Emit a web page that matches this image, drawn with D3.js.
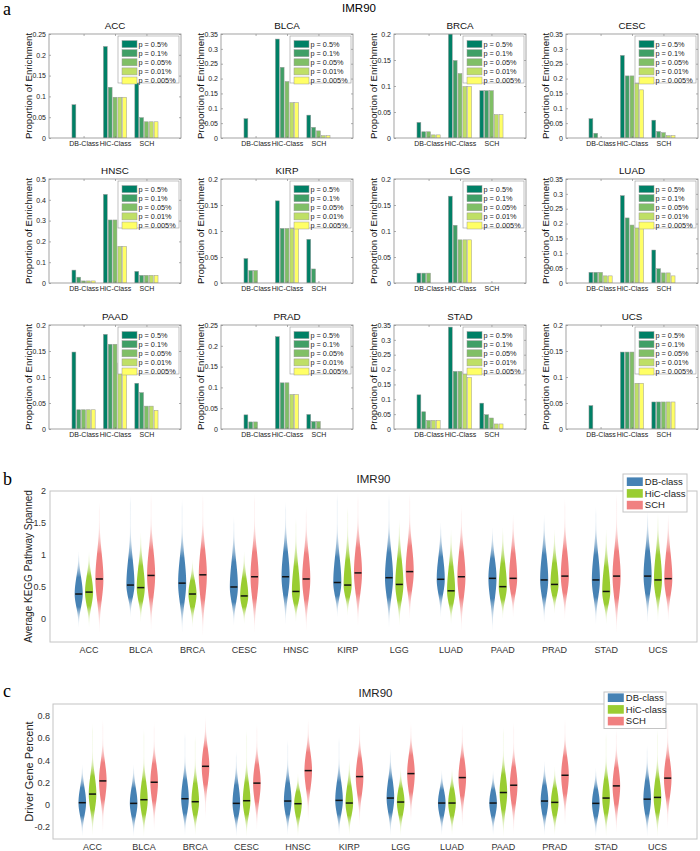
<!DOCTYPE html>
<html><head><meta charset="utf-8">
<script src="https://cdn.jsdelivr.net/npm/d3@7"></script>
<style>body{margin:0;background:#fff} svg{display:block;font-family:Arial,"Liberation Sans",sans-serif}</style>
</head><body><svg id="chart" width="700" height="851"></svg>
<script>
// ---------------- DATA ----------------
const cancers = ["ACC","BLCA","BRCA","CESC","HNSC","KIRP","LGG","LUAD","PAAD","PRAD","STAD","UCS"];
const enrichClasses = ["DB-Class","HiC-Class","SCH"];
const pLevels = ["p = 0.5%","p = 0.1%","p = 0.05%","p = 0.01%","p = 0.005%"];
const enrichYMax  = [0.25,0.35,0.2,0.35,0.5,0.2,0.2,0.35,0.2,0.25,0.35,0.2];
const enrichYStep = [0.05,0.05,0.05,0.05,0.1,0.05,0.05,0.05,0.05,0.05,0.05,0.05];
// each: [DB-Class 5 p-levels], [HiC-Class], [SCH]
const enrichACC  = [[0.08,0,0,0,0],[0.22,0.122,0.098,0.098,0.098],[0.146,0.049,0.039,0.039,0.039]];
const enrichBLCA = [[0.065,0,0,0,0],[0.333,0.238,0.19,0.119,0.119],[0.077,0.036,0.024,0.008,0.008]];
const enrichBRCA = [[0.03,0.012,0.012,0.006,0.006],[0.2,0.149,0.124,0.099,0.099],[0.091,0.091,0.091,0.045,0.045]];
const enrichCESC = [[0.065,0.016,0,0,0],[0.278,0.209,0.209,0.184,0.162],[0.06,0.022,0.018,0.008,0.008]];
const enrichHNSC = [[0.062,0.028,0.01,0.01,0.01],[0.426,0.303,0.303,0.176,0.176],[0.056,0.037,0.037,0.037,0.037]];
const enrichKIRP = [[0.047,0.024,0.024,0,0],[0.158,0.105,0.105,0.105,0.105],[0.084,0.027,0,0,0]];
const enrichLGG  = [[0.019,0.019,0.019,0,0],[0.167,0.111,0.083,0.083,0.083],[0,0,0,0,0]];
const enrichLUAD = [[0.036,0.036,0.036,0.024,0.024],[0.294,0.219,0.195,0.189,0.189],[0.111,0.048,0.034,0.034,0.024]];
const enrichPAAD = [[0.148,0.037,0.037,0.037,0.037],[0.182,0.163,0.163,0.127,0.127],[0.088,0.07,0.044,0.044,0.036]];
const enrichPRAD = [[0.034,0.017,0.017,0,0],[0.222,0.111,0.111,0.083,0.083],[0.035,0.018,0.018,0,0]];
const enrichSTAD = [[0.115,0.058,0.029,0.029,0.029],[0.343,0.194,0.194,0.19,0.173],[0.087,0.048,0.037,0.017,0.017]];
const enrichUCS  = [[0.045,0,0,0,0],[0.148,0.148,0.148,0.088,0.088],[0.052,0.052,0.052,0.052,0.052]];
const enrichValues = [enrichACC,enrichBLCA,enrichBRCA,enrichCESC,enrichHNSC,enrichKIRP,enrichLGG,enrichLUAD,enrichPAAD,enrichPRAD,enrichSTAD,enrichUCS];

const violinGroups = ["DB-class","HiC-class","SCH"];
// panel b: Average KEGG Pathway Spanned
const keggTicks = [0,0.5,1,1.5,2];
const keggDBMedian  = [0.39,0.53,0.56,0.50,0.66,0.57,0.645,0.62,0.635,0.61,0.61,0.67];
const keggHiCMedian = [0.42,0.49,0.39,0.36,0.43,0.53,0.54,0.44,0.505,0.54,0.43,0.61];
const keggSCHMedian = [0.625,0.68,0.69,0.66,0.625,0.72,0.74,0.66,0.635,0.67,0.67,0.63];
const keggDBLow  = [-0.12,0.04,-0.2,-0.09,-0.07,0.04,-0.12,0.04,-0.17,-0.04,-0.07,-0.04];
const keggDBHigh = [1.05,1.96,1.91,1.62,1.86,2.0,2.0,1.5,1.42,1.62,1.78,1.7];
const keggHiCLow  = [-0.12,-0.04,-0.12,-0.07,-0.04,0.06,-0.09,-0.07,0.01,0.09,-0.07,-0.02];
const keggHiCHigh = [1.05,1.34,0.92,1.05,1.6,1.78,1.55,1.39,1.42,1.39,1.39,1.68];
const keggSCHLow  = [-0.2,-0.17,-0.25,-0.2,-0.17,-0.09,0.01,-0.17,0.04,0.01,-0.2,-0.02];
const keggSCHHigh = [1.86,2.0,2.0,2.0,1.78,2.0,2.0,1.8,1.62,1.91,2.0,1.62];
// panel c: Driver Gene Percent
const driverTicks = [-0.2,0,0.2,0.4,0.6,0.8];
const driverDBMedian  = [0.018,0.012,0.054,0.012,0.033,0.039,0.06,0.015,0.015,0.033,0.012,0.05];
const driverHiCMedian = [0.096,0.045,0.027,0.036,0.009,0.015,0.024,0.015,0.11,0.021,0.06,0.066];
const driverSCHMedian = [0.215,0.203,0.347,0.195,0.308,0.254,0.281,0.245,0.176,0.266,0.17,0.24];
const driverDBLow  = [-0.28,-0.28,-0.27,-0.28,-0.27,-0.27,-0.27,-0.27,-0.27,-0.27,-0.28,-0.28];
const driverDBHigh = [0.36,0.36,0.67,0.49,0.6,0.63,0.51,0.31,0.31,0.39,0.33,0.55];
const driverHiCLow  = [-0.27,-0.28,-0.27,-0.28,-0.28,-0.27,-0.27,-0.27,-0.28,-0.27,-0.28,-0.28];
const driverHiCHigh = [0.75,0.7,0.64,0.69,0.28,0.4,0.33,0.33,0.72,0.34,0.67,0.7];
const driverSCHLow  = [-0.27,-0.24,-0.13,-0.22,-0.16,-0.18,-0.16,-0.19,-0.27,-0.19,-0.25,-0.22];
const driverSCHHigh = [0.79,0.76,0.81,0.75,0.79,0.76,0.76,0.75,0.76,0.79,0.7,0.81];

// ---------------- STYLE ----------------
const barColors = ["#008066","#409f66","#80bf66","#bfdf66","#ffff66"];
const violinColors = ["#4682b4","#9acd32","#f08080"];

const svg = d3.select("#chart");
const defs = svg.append("defs");
const serif = '"Liberation Serif","Times New Roman",serif';

// ---------------- PANEL A ----------------
svg.append("text").attr("x",3).attr("y",15).attr("font-family",serif).attr("font-size",18).text("a");
svg.append("text").attr("x",359).attr("y",12).attr("text-anchor","middle").attr("font-size",11.5).text("IMR90");

const aCols=[49,221,394,566], aRows=[34,179,325], aW=132, aH=104;
const slot = 0.769/5, bw = slot*0.8;
cancers.forEach((name,i)=>{
  const left=aCols[i%4], top=aRows[Math.floor(i/4)];
  const x=d3.scaleLinear().domain([-0.1,4.1]).range([left,left+aW]);
  const y=d3.scaleLinear().domain([0,enrichYMax[i]]).range([top+aH,top]);
  const g=svg.append("g");
  const cid="clipA"+i;
  defs.append("clipPath").attr("id",cid).append("rect").attr("x",left).attr("y",top).attr("width",aW).attr("height",aH);
  const bars=[];
  enrichValues[i].forEach((vals,gi)=>vals.forEach((v,k)=>{ if(v>0) bars.push({gi,k,v}); }));
  g.append("g").attr("clip-path",`url(#${cid})`).selectAll("rect").data(bars).join("rect")
    .attr("x",d=>x(d.gi+1+(d.k-2)*slot-bw/2)).attr("width",x(bw)-x(0))
    .attr("y",d=>y(d.v)).attr("height",d=>y(0)-y(d.v))
    .attr("fill",d=>barColors[d.k]).attr("stroke","#9a9a9a").attr("stroke-width",0.5);
  const ticks=d3.range(0,enrichYMax[i]+1e-9,enrichYStep[i]);
  const fmt=d=>String(+d.toFixed(3));
  const yl=g.append("g").attr("transform",`translate(${left},0)`)
    .call(d3.axisLeft(y).tickValues(ticks).tickFormat(fmt).tickSizeInner(-2).tickSizeOuter(0).tickPadding(3));
  const yr=g.append("g").attr("transform",`translate(${left+aW},0)`)
    .call(d3.axisRight(y).tickValues(ticks).tickFormat("").tickSizeInner(-2).tickSizeOuter(0));
  const xb=g.append("g").attr("transform",`translate(0,${top+aH})`)
    .call(d3.axisBottom(x).tickValues([1,2,3]).tickFormat(v=>enrichClasses[v-1]).tickSizeInner(-2).tickSizeOuter(0).tickPadding(3));
  const xt=g.append("g").attr("transform",`translate(0,${top})`)
    .call(d3.axisTop(x).tickValues([1,2,3]).tickFormat("").tickSizeInner(-2).tickSizeOuter(0));
  [yl,yr,xb,xt].forEach(a=>{a.select(".domain").remove(); a.selectAll("line").attr("stroke","#777").attr("stroke-width",0.6);
    a.selectAll("text").attr("font-size",7).attr("fill","#222").attr("font-family","Arial,'Liberation Sans',sans-serif");});
  g.append("rect").attr("x",left).attr("y",top).attr("width",aW).attr("height",aH)
    .attr("fill","none").attr("stroke","#8c8c8c").attr("stroke-width",0.8);
  g.append("text").attr("x",left+aW/2).attr("y",top-5).attr("text-anchor","middle").attr("font-size",9.8).attr("fill","#111").text(name);
  g.append("text").attr("transform",`translate(${left-20},${top+aH/2}) rotate(-90)`).attr("text-anchor","middle")
    .attr("dy","0.35em").attr("font-size",9.6).attr("fill","#111").text("Proportion of Enrichment");
  // legend
  const lx=left+aW-63, ly=top+2;
  const lg=g.append("g");
  lg.append("rect").attr("x",lx).attr("y",ly).attr("width",61).attr("height",47).attr("fill","#fff").attr("stroke","#999").attr("stroke-width",0.6);
  pLevels.forEach((p,k)=>{
    lg.append("rect").attr("x",lx+4).attr("y",ly+4.6+k*9.1).attr("width",15).attr("height",7)
      .attr("fill",barColors[k]).attr("stroke","#9a9a9a").attr("stroke-width",0.5);
    lg.append("text").attr("x",lx+20.5).attr("y",ly+8.1+k*9.1).attr("dy","0.35em").attr("font-size",7.3).attr("fill","#222").text(p);
  });
});

// ---------------- PANELS B & C ----------------
function violinPanel(cfg){
  const g=svg.append("g");
  const xs=d3.scaleLinear().domain(cfg.domainX).range([cfg.left,cfg.right]);
  const ys=d3.scaleLinear().domain(cfg.domainY).range([cfg.bottom,cfg.top]);
  const cid="clip"+cfg.id;
  defs.append("clipPath").attr("id",cid).append("rect").attr("x",cfg.left).attr("y",cfg.top)
    .attr("width",cfg.right-cfg.left).attr("height",cfg.bottom-cfg.top);
  g.append("rect").attr("x",cfg.left).attr("y",cfg.top).attr("width",cfg.right-cfg.left).attr("height",cfg.bottom-cfg.top)
    .attr("fill","none").attr("stroke","#c4c4c4").attr("stroke-width",1);
  const plot=g.append("g").attr("clip-path",`url(#${cid})`);
  const H=(xs(1)-xs(0))*cfg.halfW;
  const offs=[-0.2,0,0.2];
  const area=d3.area().y(d=>d.py).x0(d=>d.cx-d.hw).x1(d=>d.cx+d.hw).curve(d3.curveBasis);
  cancers.forEach((c,i)=>{
    [0,1,2].forEach(s=>{
      const med=cfg.med[s][i], lo=cfg.lo[s][i], hi=cfg.hi[s][i];
      const cx=xs(i+1+offs[s]);
      const sdL=Math.min((med-lo)/2.6,cfg.cap), sdH=Math.min((hi-med)/2.6,cfg.cap);
      const n=120, pts=[];
      for(let j=0;j<=n;j++){
        const v=lo+(hi-lo)*j/n;
        const z=v<med?(med-v)/sdL:(v-med)/sdH;
        const gv=Math.exp(-0.5*z*z);
        const t=Math.min(v-lo,hi-v)/(hi-lo);
        const taper=Math.min(1,t*12);
        pts.push({v,py:ys(v),cx,hw:H*Math.max(gv,0.12*taper),op:Math.min(1,Math.max(gv*1.7,0.09*taper))});
      }
      const gid=`vg${cfg.id}_${i}_${s}`;
      const grad=defs.append("linearGradient").attr("id",gid).attr("gradientUnits","userSpaceOnUse")
        .attr("x1",0).attr("x2",0).attr("y1",ys(lo)).attr("y2",ys(hi));
      pts.forEach((p,j)=>grad.append("stop").attr("offset",j/n).attr("stop-color",violinColors[s]).attr("stop-opacity",p.op));
      plot.append("path").attr("d",area(pts)).attr("fill",`url(#${gid})`);
      plot.append("line").attr("x1",cx-3.5).attr("x2",cx+3.5).attr("y1",ys(med)).attr("y2",ys(med))
        .attr("stroke","#111").attr("stroke-width",1.5);
    });
  });
  // y tick labels
  g.append("g").selectAll("text").data(cfg.ticks).join("text")
    .attr("x",cfg.left-cfg.tickGap).attr("y",d=>ys(d)).attr("dy","0.35em").attr("text-anchor","end")
    .attr("font-size",9).attr("fill","#333").text(d=>String(d));
  // x labels
  g.append("g").selectAll("text").data(cancers).join("text")
    .attr("x",(d,i)=>xs(i+1)).attr("y",cfg.bottom+10.5).attr("text-anchor","middle")
    .attr("font-size",9).attr("fill","#333").text(d=>d);
  // y label
  g.append("text").attr("transform",`translate(${cfg.ylabelX},${(cfg.top+cfg.bottom)/2}) rotate(-90)`)
    .attr("text-anchor","middle").attr("dy","0.35em").attr("font-size",cfg.ylabelSize).attr("fill","#222").text(cfg.ylabel);
  // title & letter
  g.append("text").attr("x",cfg.titleX).attr("y",cfg.titleY).attr("text-anchor","middle").attr("font-size",11.5).attr("fill","#222").text("IMR90");
  g.append("text").attr("x",3).attr("y",cfg.letterY).attr("font-family",serif).attr("font-size",18).text(cfg.letter);
  // legend
  const L=cfg.legend;
  g.append("rect").attr("x",L.x).attr("y",L.y).attr("width",L.w).attr("height",L.h).attr("fill","#fff").attr("stroke","#c4c4c4").attr("stroke-width",1);
  violinGroups.forEach((nm,k)=>{
    const cy=L.y+L.first+k*11.7;
    g.append("rect").attr("x",L.x+3.8).attr("y",cy-4.3).attr("width",16).attr("height",8.6).attr("fill",violinColors[k]);
    g.append("text").attr("x",L.x+21.8).attr("y",cy).attr("dy","0.35em").attr("font-size",9.5).attr("fill","#222").text(nm);
  });
}

violinPanel({id:"B",left:50,right:697,top:491,bottom:642,domainX:[0.245,12.755],domainY:[-0.36,2],
  ticks:keggTicks,tickGap:4,halfW:0.078,cap:0.38,
  med:[keggDBMedian,keggHiCMedian,keggSCHMedian],lo:[keggDBLow,keggHiCLow,keggSCHLow],hi:[keggDBHigh,keggHiCHigh,keggSCHHigh],
  ylabel:"Average KEGG Pathway Spanned",ylabelX:28,ylabelSize:10,titleX:373.5,titleY:483,letter:"b",letterY:485,
  legend:{x:623,y:474,w:64,h:38,first:7.7}});

violinPanel({id:"C",left:53,right:697,top:704,bottom:839,domainX:[0.23,12.77],domainY:[-0.31,0.91],
  ticks:driverTicks,tickGap:3,halfW:0.074,cap:0.16,
  med:[driverDBMedian,driverHiCMedian,driverSCHMedian],lo:[driverDBLow,driverHiCLow,driverSCHLow],hi:[driverDBHigh,driverHiCHigh,driverSCHHigh],
  ylabel:"Driver Gene Percent",ylabelX:29,ylabelSize:11,titleX:375.5,titleY:697,letter:"c",letterY:697,
  legend:{x:604,y:692,w:62,h:36.5,first:5.7}});
</script></body></html>
